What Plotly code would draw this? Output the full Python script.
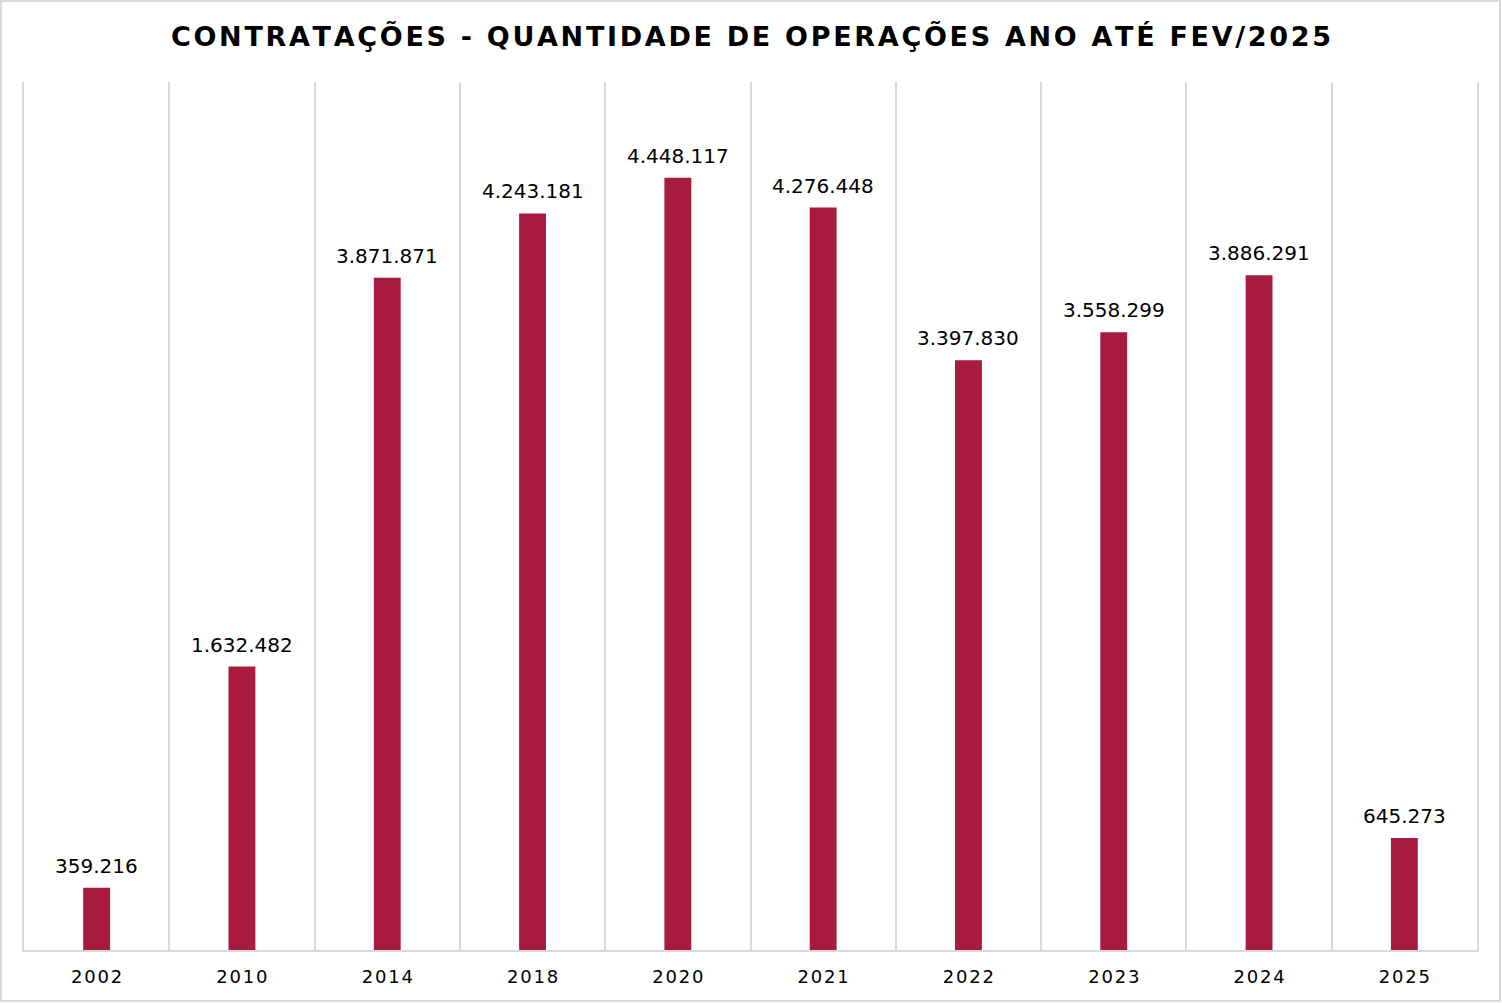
import plotly.graph_objects as go

years = ["2002", "2010", "2014", "2018", "2020", "2021", "2022", "2023", "2024", "2025"]
values = [359216, 1632482, 3871871, 4243181, 4448117, 4276448, 3397830, 3558299, 3886291, 645273]

HS = "\u200a"

def spaced(s, sep=HS):
    return sep.join(list(s))

def fmt(v):
    return f"{v:,}".replace(",", ".")

labels = [fmt(v) for v in values]
tick_text = [spaced(y) for y in years]

fig = go.Figure(go.Bar(
    x=years, y=values,
    marker=dict(color="#A61B3E", line=dict(width=0)),
    width=0.185,
    hoverinfo="skip",
))

for i, (v, lab) in enumerate(zip(values, labels)):
    fig.add_annotation(x=i, y=v, xref="x", yref="y", text=lab, showarrow=False,
                       xanchor="center", yanchor="bottom", yshift=8,
                       font=dict(family="DejaVu Sans", size=20, color="#000000"))

title = "CONTRATAÇÕES - QUANTIDADE DE OPERAÇÕES ANO ATÉ FEV/2025"

W, H = 1502, 1003
L, R, T, B = 24, 25, 82, 53
pw, ph = W - L - R, H - T - B

fig.update_layout(
    width=W, height=H,
    margin=dict(l=L, r=R, t=T, b=B, pad=0),
    paper_bgcolor="white", plot_bgcolor="white",
    showlegend=False,
    title=dict(text="<b>" + spaced(title, HS) + "</b>",
               x=0.5, xanchor="center", y=1 - 37 / H, yanchor="middle",
               font=dict(family="DejaVu Sans", size=27, color="#000000")),
    xaxis=dict(
        type="category", tickson="boundaries",
        tickvals=years, ticktext=tick_text,
        showgrid=True, gridcolor="#D9D9D9", gridwidth=1.5,
        showline=True, linecolor="#D9D9D9", linewidth=2,
        ticks="", ticklen=0, ticklabelstandoff=9,
        tickfont=dict(family="DejaVu Sans", size=18, color="#000000"),
        range=[-0.5, 9.5],
    ),
    yaxis=dict(
        range=[0, 5000000], showgrid=False, zeroline=False,
        showticklabels=False, ticks="",
        showline=True, mirror=True, linecolor="#D9D9D9", linewidth=1.5,
    ),
    shapes=[dict(type="rect", xref="paper", yref="paper",
                 x0=(1 - L) / pw, x1=(W - 2 - L) / pw,
                 y0=(H - B - (H - 2)) / ph, y1=(H - B - 1) / ph,
                 line=dict(color="#D9D9D9", width=2), fillcolor="rgba(0,0,0,0)",
                 layer="below")],
)

fig.write_html("out.html", config={"displayModeBar": False},
               post_script="document.body.style.margin='0';document.body.style.overflow='hidden';")
